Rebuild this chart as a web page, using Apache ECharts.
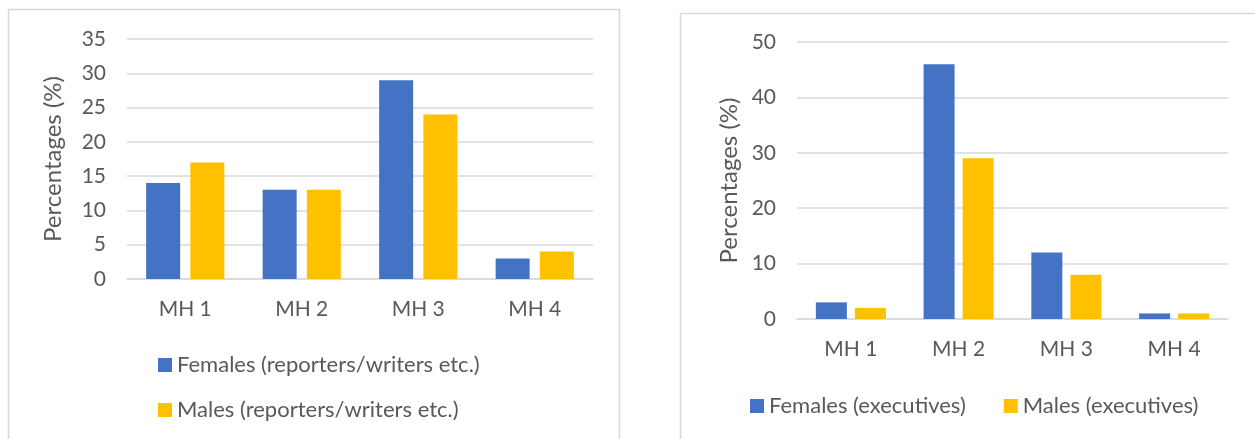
<!DOCTYPE html>
<html>
<head>
<meta charset="utf-8">
<script src="https://cdn.jsdelivr.net/npm/echarts@6/dist/echarts.min.js"></script>
<style>
  html, body { margin: 0; padding: 0; background: #fff; }
  #chart { width: 1255px; height: 439px; }
</style>
</head>
<body>
<div id="chart"></div>
<script>
// categories and values
var categories = ['MH 1', 'MH 2', 'MH 3', 'MH 4'];
var femalesReporters = [14, 13, 29, 3];
var malesReporters = [17, 13, 24, 4];
var femalesExecutives = [3, 46, 12, 1];
var malesExecutives = [2, 29, 8, 1];

var leftNames = ['Females (reporters/writers etc.)', 'Males (reporters/writers etc.)'];
var rightNames = ['Females (executives)', 'Males (executives)'];

var BLUE = '#4472C4';
var GOLD = '#FFC000';
var TEXT = '#595959';
var GRID = '#D9D9D9';
var FONT = 'Lato';

var chart = echarts.init(document.getElementById('chart'), null, { renderer: 'canvas' });

function xAxisFor(gridIndex) {
    return {
        type: 'category',
        gridIndex: gridIndex,
        data: categories,
        axisTick: { show: false },
        axisLine: { lineStyle: { color: GRID, width: 1.5 } },
        axisLabel: { color: TEXT, fontSize: 21, fontFamily: FONT, margin: 20 }
    };
}

function yAxisFor(gridIndex, max, interval, gap) {
    return {
        type: 'value',
        gridIndex: gridIndex,
        min: 0,
        max: max,
        interval: interval,
        name: 'Percentages (%)',
        nameLocation: 'middle',
        nameGap: gap,
        nameTextStyle: { color: TEXT, fontSize: 24, fontFamily: FONT },
        axisLine: { show: false },
        axisTick: { show: false },
        axisLabel: { color: TEXT, fontSize: 21, fontFamily: FONT, margin: 21 },
        splitLine: { lineStyle: { color: GRID, width: 1.5 } }
    };
}

function bar(name, data, color, axis, width, gap) {
    return {
        name: name,
        type: 'bar',
        xAxisIndex: axis,
        yAxisIndex: axis,
        data: data,
        barWidth: width,
        barGap: gap,
        itemStyle: { color: color },
        silent: true
    };
}

var option = {
    animation: false,
    graphic: [
        { type: 'rect', shape: { x: 8.5, y: 9.5, width: 611, height: 440 }, style: { fill: 'none', stroke: GRID, lineWidth: 1.5 } },
        { type: 'rect', shape: { x: 680.5, y: 13.5, width: 600, height: 440 }, style: { fill: 'none', stroke: GRID, lineWidth: 1.5 } }
    ],
    grid: [
        { left: 127, top: 39, width: 466, height: 240 },
        { left: 797, top: 42, width: 431, height: 277 }
    ],
    legend: [
        {
            data: leftNames,
            orient: 'vertical',
            left: 153,
            top: 349,
            itemWidth: 14,
            itemHeight: 14,
            itemGap: 23,
            icon: 'rect',
            textStyle: { color: TEXT, fontSize: 22, lineHeight: 22, fontFamily: FONT }
        },
        {
            data: rightNames,
            orient: 'horizontal',
            left: 745,
            top: 390,
            itemWidth: 14,
            itemHeight: 14,
            itemGap: 38,
            icon: 'rect',
            textStyle: { color: TEXT, fontSize: 22, lineHeight: 22, fontFamily: FONT }
        }
    ],
    xAxis: [xAxisFor(0), xAxisFor(1)],
    yAxis: [yAxisFor(0, 35, 5, 62), yAxisFor(1, 50, 10, 56)],
    series: [
        bar(leftNames[0], femalesReporters, BLUE, 0, 34, '30%'),
        bar(leftNames[1], malesReporters, GOLD, 0, 34, '30%'),
        bar(rightNames[0], femalesExecutives, BLUE, 1, 31, '26%'),
        bar(rightNames[1], malesExecutives, GOLD, 1, 31, '26%')
    ]
};

chart.setOption(option);
</script>
</body>
</html>
